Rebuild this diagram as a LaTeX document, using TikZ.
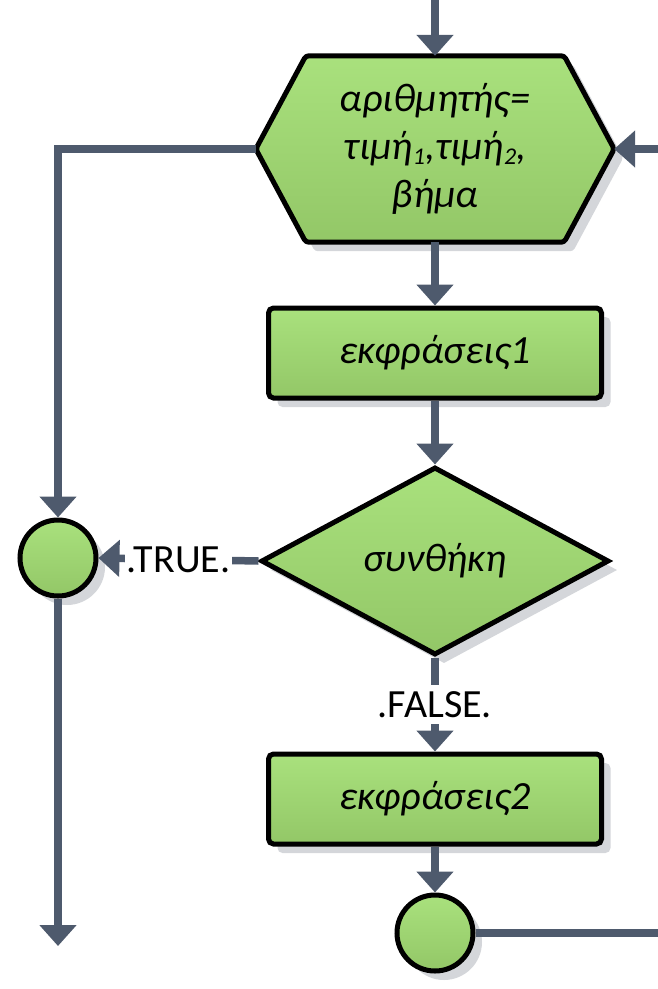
\documentclass[tikz,border=0pt]{standalone}
\usepackage{fontspec}
\setmainfont{Carlito}
\usetikzlibrary{arrows.meta,shapes.geometric,shadows,calc}

\definecolor{flowline}{HTML}{4E5A6D}
\definecolor{greentop}{HTML}{A9E17D}
\definecolor{greenbot}{HTML}{93C767}
\definecolor{shadowgray}{HTML}{D4D6DA}

\newcommand{\lowidx}[1]{\raisebox{-5pt}{\fontsize{24}{24}\selectfont #1}}

\tikzset{
  x=1pt, y=1pt,
  bigtext/.style={font=\fontsize{40}{48}\selectfont\itshape, align=center, text=black},
  greenfill/.style={top color=greentop, bottom color=greenbot,
    draw=black, line width=5pt,
    drop shadow={shadow xshift=9pt, shadow yshift=-9pt, fill=shadowgray, opacity=1}},
  procbox/.style={greenfill, bigtext, rectangle, rounded corners=5pt,
    minimum width=333pt, minimum height=90pt, inner sep=0pt},
  testbox/.style={greenfill, bigtext, diamond, minimum width=348pt,
    minimum height=188pt, inner sep=0pt},
  joint/.style={greenfill, circle, minimum size=76pt, inner sep=0pt},
  flow/.style={draw=flowline, line width=7.5pt, line join=miter},
  flowarrow/.style={flow, -{Triangle[width=36pt,length=21pt]}},
  edgelabel/.style={fill=white, text=black, font=\fontsize{40}{48}\selectfont,
    inner xsep=2pt, inner ysep=6pt},
}

\begin{document}
\begin{tikzpicture}
\useasboundingbox (0,0) rectangle (658,-989);

% loop header (hexagon) built on an invisible frame
\node[minimum width=358pt, minimum height=186pt, inner sep=0pt] (hex) at (435,-149) {};
\path[greenfill, rounded corners=3pt]
  ($(hex.north west)+(50,0)$) -- ($(hex.north east)+(-50,0)$) -- (hex.east)
  -- ($(hex.south east)+(-50,0)$) -- ($(hex.south west)+(50,0)$) -- (hex.west) -- cycle;
\node[bigtext] at (hex.center) {αριθμητής=\\τιμή\lowidx{1},τιμή\lowidx{2},\\βήμα};

% body of the loop
\node[procbox] (body1) at (435,-353) {εκφράσεις1};
\node[testbox] (cond) at (435,-561) {συνθήκη};
\node[procbox] (body2) at (435,-799) {εκφράσεις2};
\node[joint] (loopend) at (435,-933) {};
\node[joint] (exitjoin) at (58,-558) {};

% free ends of the connectors
\coordinate (entry) at (435,0);
\coordinate (loopback) at (658,-149);
\coordinate (loopout) at (658,-933);
\coordinate (leftturn) at (58,-149);
\coordinate (exitend) at (58,-946);

% connectors
\draw[flowarrow] (entry) -- (hex.north);
\draw[flowarrow] (loopback) -- (hex.east);
\draw[flowarrow] (hex.south) -- (body1.north);
\draw[flowarrow] (body1.south) -- (cond.north);
\draw[flowarrow] (cond.south) -- node[edgelabel] {.FALSE.} (body2.north);
\draw[flowarrow] (body2.south) -- (loopend.north);
\draw[flow] (loopend.east) -- (loopout);
\draw[flowarrow] (cond.west) -- node[edgelabel] {.TRUE.} (exitjoin.east);
\draw[flowarrow] (hex.west) -- (leftturn) -- (exitjoin.north);
\draw[flowarrow] (exitjoin.south) -- (exitend);
\end{tikzpicture}
\end{document}
